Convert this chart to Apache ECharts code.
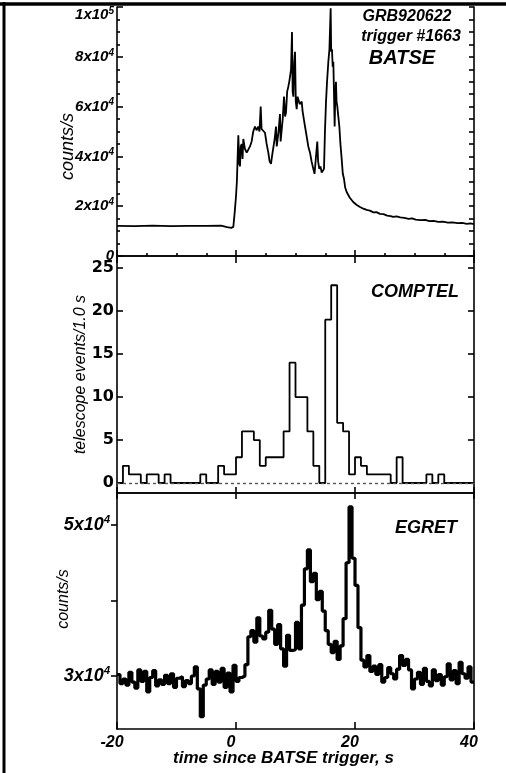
<!DOCTYPE html>
<html>
<head>
<meta charset="utf-8">
<script src="https://cdn.jsdelivr.net/npm/echarts@6/dist/echarts.min.js"></script>
<style>
  html, body { margin: 0; padding: 0; background: #fff; }
  #chart { width: 506px; height: 773px; }
</style>
</head>
<body>
<div id="chart"></div>
<script>
// --- data ---
var timeTicks = [-20, 0, 20, 40];

// BATSE 20-keV+ rate (counts/s), irregular time samples (s)
var batseTime = [-20, -17, -14, -11, -8, -5, -2.5, -1.5, -0.8, -0.45, -0.2, 0.0, 0.15, 0.39, 0.55, 0.67, 0.8, 0.95, 1.1, 1.23,
  1.5, 1.8, 2.07, 2.35, 2.63, 2.9, 3.19, 3.45, 3.75, 3.95, 4.15, 4.3, 4.49, 4.87, 5.15, 5.43, 5.65, 5.88, 6.05, 6.27,
  6.5, 6.72, 6.85, 6.94, 7.15, 7.39, 7.5, 7.62, 7.85, 8.07, 8.25, 8.4, 8.6, 8.79, 8.95, 9.08, 9.25, 9.41, 9.52, 9.64,
  9.8, 9.92, 10.05, 10.2, 10.35, 10.47, 10.7, 11.04, 11.2, 11.31, 11.6, 11.88, 12.15, 12.44, 12.7, 12.99, 13.2, 13.45, 13.66, 13.8,
  14.0, 14.2, 14.4, 14.6, 14.79, 14.95, 15.13, 15.3, 15.52, 15.7, 15.91, 16.0, 16.13, 16.25, 16.36, 16.58, 16.7, 16.8, 16.9, 17.03,
  17.2, 17.37, 17.55, 17.76, 17.95, 18.15, 18.35, 18.6, 19.1, 19.7, 20.3, 20.84, 21.4, 21.96, 22.5, 23.1, 23.6, 24.2, 24.8, 25.4,
  26.0, 26.4, 27.0, 27.6, 28.3, 29, 29.6, 30.2, 31, 31.8, 32.5, 33.2, 34, 34.8, 35.6, 36.4, 37.2, 38, 38.8, 39.4, 40];
var batseRate = [12100, 12000, 12200, 12000, 12100, 12100, 12200, 11600, 11300, 11700, 18000, 24000, 30000, 48500, 37000, 36000, 44000, 45000, 39000, 47000,
  43000, 41500, 41000, 44000, 46000, 50000, 52000, 50500, 52000, 50000, 60000, 51000, 51000, 49500, 45000, 41500, 38000, 37000, 40000, 40000,
  47000, 52000, 44000, 44000, 50000, 57000, 46000, 45500, 55000, 64000, 56000, 57500, 66000, 68000, 70000, 72000, 75000, 90000, 66000, 64000,
  78000, 82000, 62000, 59000, 64000, 63000, 61000, 62000, 58000, 57500, 52000, 48000, 44000, 41500, 38000, 35000, 33000, 33000, 46000, 38000,
  35000, 36000, 33500, 34000, 35000, 50000, 62000, 70000, 78000, 83000, 99500, 82000, 83000, 76000, 78000, 52000, 66000, 70000, 62000, 60000,
  56000, 52000, 45000, 39000, 33000, 31000, 27500, 25700, 23500, 21700, 20500, 19700, 19000, 18500, 18200, 17500, 17600, 16900, 16800, 16200,
  16000, 15700, 15900, 15500, 15300, 14900, 15100, 14600, 14400, 14500, 14000, 14100, 13700, 13800, 13400, 13500, 13200, 13300, 12900, 13100, 12800];

// COMPTEL telescope events per 1.0 s bin, bins starting at -20 s
var comptelStart = -20;
var comptelBin = 1;
var comptelCounts = [0, 2, 1, 1, 0, 1, 1, 0, 1, 0,
  0, 0, 0, 0, 1, 0, 0, 2, 1, 1,
  3, 6, 6, 5, 2, 3, 3, 3, 6, 14,
  10, 10, 6, 2, 0, 19, 23, 7, 6, 1,
  3, 2, 1, 1, 1, 1, 0, 3, 0, 0,
  0, 0, 1, 0, 1, 0, 0, 0, 0, 0];

// EGRET anticoincidence rate (counts/s), 0.5 s bins starting at -20 s
var egretStart = -20;
var egretBin = 0.5;
var egretRate = [30200, 29000, 29600, 28800, 30500, 29200, 28400, 30800, 29300, 30600,
  27900, 29800, 30700, 28700, 29500, 28900, 30100, 29000, 30300, 28500,
  29700, 29900, 28600, 29400, 29000, 30000, 31200, 28300, 24600, 28800,
  29600, 30800, 28900, 30600, 29200, 31000, 28500, 30400, 27900, 31400,
  29300, 29800, 30000, 31500, 35200, 36000, 34500, 37700, 35300, 34900,
  35800, 38700, 36200, 34200, 36800, 33600, 31300, 35400, 33400, 33500,
  37100, 33600, 39400, 44200, 46700, 42500, 43600, 40100, 41200, 38600,
  36000, 34200, 33100, 34600, 32200, 34000, 37600, 45000, 52400, 45600,
  42000, 36400, 32100, 31200, 32700, 30600, 31300, 30200, 31500, 29200,
  29800, 31100, 30300, 29600, 30900, 32700, 31400, 32200, 30800, 28300,
  29600, 30500, 28900, 31000, 29300, 28700, 30800, 29400, 30200, 28800,
  29900, 31600, 29500, 30700, 29000, 31800, 30300, 29700, 31200, 29200];

var comptelTicks = [0, 5, 10, 15, 20, 25];
var egretTicks = [30000, 40000, 50000];
var egretLabels = [30000, 50000];

// --- helpers ---
function pairs(xs, ys) {
  return ys.map(function(v, i) { return [xs[i], v]; });
}
function bins(start, width, ys) {
  var d = ys.map(function(v, i) { return [start + i * width, v]; });
  d.push([start + ys.length * width, ys[ys.length - 1]]);
  return d;
}

var ink = '#000';
var font = '"Liberation Sans", Arial, sans-serif';
var lineStyle = { color: ink, width: 1.6 };
var yLine = { show: true, onZero: false, lineStyle: lineStyle };

var sciRich = {
  m: { fontFamily: font, fontSize: 15, fontWeight: 'bold', fontStyle: 'italic', color: ink },
  e: { fontFamily: font, fontSize: 10, fontWeight: 'bold', fontStyle: 'italic', color: ink, padding: [0, 0, 8, 0] },
  mt: { fontFamily: font, fontSize: 15, fontWeight: 'bold', fontStyle: 'italic', color: ink, padding: [16, 0, 0, 0] },
  et: { fontFamily: font, fontSize: 10, fontWeight: 'bold', fontStyle: 'italic', color: ink, padding: [16, 0, 8, 0] },
  bm: { fontFamily: font, fontSize: 18, fontWeight: 'bold', fontStyle: 'italic', color: ink },
  be: { fontFamily: font, fontSize: 11, fontWeight: 'bold', fontStyle: 'italic', color: ink, padding: [0, 0, 10, 0] }
};
function sci(v, a, b) {
  if (v === 0) return '{' + a + '|0}';
  var e = Math.floor(Math.log10(v) + 1e-9);
  var m = Math.round(v / Math.pow(10, e));
  return '{' + a + '|' + m + 'x10}{' + b + '|' + e + '}';
}

function xAxis(grid, pos, opts) {
  var ax = {
    type: 'value', gridIndex: grid, position: pos, min: -20, max: 40, interval: 20,
    axisLine: { show: true, onZero: false, lineStyle: lineStyle },
    axisTick: { show: true, inside: true, length: 6, lineStyle: lineStyle },
    axisLabel: { show: false },
    splitLine: { show: false }
  };
  return Object.assign(ax, opts || {});
}

var chart = echarts.init(document.getElementById('chart'), null, { renderer: 'canvas' });
chart.setOption({
  animation: false,
  backgroundColor: '#fff',
  grid: [
    { left: 117, right: 32, top: 7, height: 249 },
    { left: 117, right: 32, top: 256, height: 237 },
    { left: 117, right: 32, top: 493, height: 236 }
  ],
  xAxis: [
    xAxis(0, 'bottom', { minorTick: { show: true, splitNumber: 4, length: 3, lineStyle: lineStyle } }),
    xAxis(1, 'bottom', {}),
    xAxis(1, 'top', { axisTick: { show: true, inside: true, length: 7, lineStyle: lineStyle } }),
    xAxis(2, 'top', {}),
    xAxis(2, 'bottom', {
      axisTick: { show: true, inside: true, length: 7, lineStyle: lineStyle },
      axisLabel: {
        show: true, margin: 6, color: ink, fontFamily: font, fontSize: 16, fontWeight: 'bold', fontStyle: 'italic',
        padding: [0, 10, 0, 0],
        formatter: function(v) { return timeTicks.indexOf(v) >= 0 ? String(v) : ''; }
      },
      name: 'time since BATSE trigger, s',
      nameLocation: 'middle',
      nameGap: 21,
      nameMoveOverlap: false,
      nameTextStyle: { color: ink, fontFamily: font, fontSize: 17, fontWeight: 'bold', fontStyle: 'italic', padding: [0, 24, 0, 0] }
    })
  ],
  yAxis: [
    {
      type: 'value', gridIndex: 0, position: 'left', min: 0, max: 100000, interval: 20000,
      axisLine: yLine,
      axisTick: { show: true, inside: true, length: 6, lineStyle: lineStyle },
      minorTick: { show: true, splitNumber: 4, length: 3, lineStyle: lineStyle },
      splitLine: { show: false },
      axisLabel: {
        margin: 3, rich: sciRich,
        formatter: function(v) { return v === 100000 ? sci(v, 'mt', 'et') : sci(v, 'm', 'e'); }
      },
      name: 'counts/s', nameLocation: 'middle', nameGap: 40, nameMoveOverlap: false,
      nameTextStyle: { color: ink, fontFamily: font, fontSize: 18, fontStyle: 'italic', padding: [0, 30, 0, 0] }
    },
    {
      type: 'value', gridIndex: 0, position: 'right', min: 0, max: 100000, interval: 20000,
      axisLine: yLine,
      axisTick: { show: true, inside: true, length: 5, lineStyle: lineStyle },
      minorTick: { show: true, splitNumber: 4, length: 5, lineStyle: lineStyle },
      splitLine: { show: false },
      axisLabel: { show: false }
    },
    {
      type: 'value', gridIndex: 1, position: 'left', min: -1.16, max: 26.4,
      axisLine: yLine,
      axisTick: { show: true, inside: true, length: 6, customValues: comptelTicks, lineStyle: lineStyle },
      splitLine: { show: false },
      axisLabel: {
        margin: 3, customValues: comptelTicks, color: ink,
        fontFamily: '"DejaVu Sans", sans-serif', fontSize: 16, fontWeight: 'bold'
      },
      name: 'telescope events/1.0 s', nameLocation: 'middle', nameGap: 28, nameMoveOverlap: false,
      nameTextStyle: { color: ink, fontFamily: font, fontSize: 16, fontStyle: 'italic' }
    },
    {
      type: 'value', gridIndex: 1, position: 'right', min: -1.16, max: 26.4,
      axisLine: yLine,
      axisTick: { show: true, inside: true, length: 6, customValues: comptelTicks, lineStyle: lineStyle },
      splitLine: { show: false },
      axisLabel: { show: false }
    },
    {
      type: 'value', gridIndex: 2, position: 'left', min: 22980, max: 54240,
      axisLine: yLine,
      axisTick: { show: true, inside: false, length: 6, customValues: egretTicks, lineStyle: lineStyle },
      splitLine: { show: false },
      axisLabel: {
        margin: 7, customValues: egretLabels, rich: sciRich,
        formatter: function(v) { return sci(v, 'bm', 'be'); }
      },
      name: 'counts/s', nameLocation: 'middle', nameGap: 45, nameMoveOverlap: false,
      nameTextStyle: { color: ink, fontFamily: font, fontSize: 16, fontStyle: 'italic', padding: [0, 0, 0, 24] }
    },
    {
      type: 'value', gridIndex: 2, position: 'right', min: 22980, max: 54240,
      axisLine: yLine,
      axisTick: { show: false },
      splitLine: { show: false },
      axisLabel: { show: false }
    }
  ],
  series: [
    {
      name: 'BATSE', type: 'line', xAxisIndex: 0, yAxisIndex: 0,
      data: pairs(batseTime, batseRate),
      symbol: 'none', lineStyle: { color: ink, width: 1.8 }
    },
    {
      name: 'COMPTEL', type: 'line', xAxisIndex: 1, yAxisIndex: 2, step: 'end',
      data: bins(comptelStart, comptelBin, comptelCounts),
      symbol: 'none', lineStyle: { color: ink, width: 1.8 },
      markLine: {
        silent: true, symbol: 'none', label: { show: false },
        lineStyle: { color: '#555', width: 1.4, type: [3, 3] },
        data: [{ yAxis: 0 }]
      }
    },
    {
      name: 'EGRET', type: 'line', xAxisIndex: 4, yAxisIndex: 4, step: 'end',
      data: bins(egretStart, egretBin, egretRate),
      symbol: 'none', lineStyle: { color: ink, width: 3.2 }
    }
  ],
  graphic: [
    { type: 'line', shape: { x1: 0, y1: 4, x2: 506, y2: 4 }, style: { stroke: ink, lineWidth: 3.5 } },
    { type: 'line', shape: { x1: 4, y1: 2, x2: 4, y2: 773 }, style: { stroke: ink, lineWidth: 3 } },
    { type: 'text', x: 407, y: 17, style: { text: 'GRB920622', fill: ink, font: 'italic bold 16px "Liberation Sans", Arial, sans-serif', textAlign: 'center', textVerticalAlign: 'middle' } },
    { type: 'text', x: 411, y: 37, style: { text: 'trigger #1663', fill: ink, font: 'italic bold 16px "Liberation Sans", Arial, sans-serif', textAlign: 'center', textVerticalAlign: 'middle' } },
    { type: 'text', x: 402, y: 58, style: { text: 'BATSE', fill: ink, font: 'italic bold 20px "Liberation Sans", Arial, sans-serif', textAlign: 'center', textVerticalAlign: 'middle' } },
    { type: 'text', x: 415, y: 292, style: { text: 'COMPTEL', fill: ink, font: 'italic bold 18px "Liberation Sans", Arial, sans-serif', textAlign: 'center', textVerticalAlign: 'middle' } },
    { type: 'text', x: 426, y: 528, style: { text: 'EGRET', fill: ink, font: 'italic bold 18px "Liberation Sans", Arial, sans-serif', textAlign: 'center', textVerticalAlign: 'middle' } }
  ]
});
window.addEventListener('resize', function() { chart.resize(); });
</script>
</body>
</html>
